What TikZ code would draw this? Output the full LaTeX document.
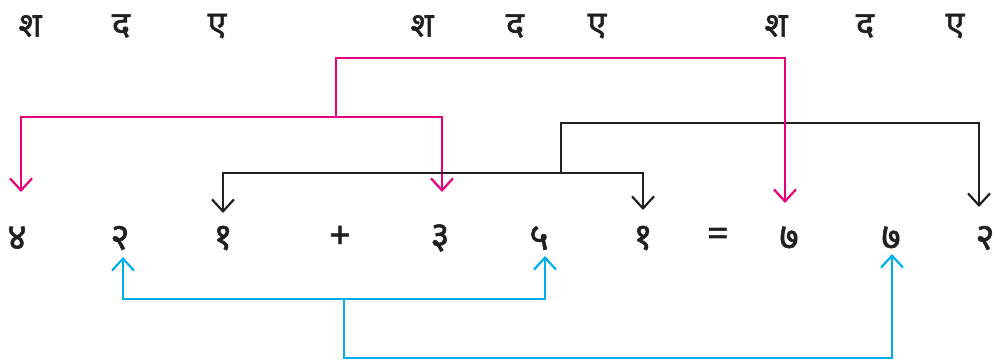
\documentclass[tikz,border=0pt]{standalone}
\usepackage{fontspec}
\newfontfamily\deva[Script=Devanagari, FakeBold=1.6]{Noto Sans}
\usetikzlibrary{arrows.meta,calc}
\definecolor{magc}{HTML}{E6007E}
\definecolor{bluc}{HTML}{00AEEF}
\definecolor{blkc}{HTML}{231F20}
\begin{document}
\begin{tikzpicture}[x=1pt,y=-1pt,
  lbl/.style={font=\deva\fontsize{34}{34}\selectfont, text=blkc, inner sep=0pt},
  num/.style={font=\deva\fontsize{37}{37}\selectfont, text=blkc, inner sep=0pt},
  conn/.style={line width=2.2pt, miter limit=10},
  mag/.style={conn, draw=magc},
  blk/.style={conn, draw=blkc},
  blu/.style={conn, draw=bluc},
  tip/.style={-{Straight Barb[length=12pt,width=22pt]}}]
\useasboundingbox (0,0) rectangle (993,360);
% top place labels
\node[lbl] (s1) at (30,26) {श};
\node[lbl] (t1) at (121,26) {द};
\node[lbl] (e1) at (217,26) {ए};
\node[lbl] (s2) at (422,26) {श};
\node[lbl] (t2) at (515,26) {द};
\node[lbl] (e2) at (597,26) {ए};
\node[lbl] (s3) at (776,26) {श};
\node[lbl] (t3) at (865,26) {द};
\node[lbl] (e3) at (955,26) {ए};
% digits
\node[num] (d4)  at (17,238)  {४};
\node[num] (d2a) at (120,238) {२};
\node[num] (d1a) at (223,238) {१};
\node[num] (plus) at (340,237) {+};
\node[num] (d3)  at (440,238) {३};
\node[num] (d5)  at (539,238) {५};
\node[num] (d1b) at (643,238) {१};
\node[num] (eq)  at (718,237) {=};
\node[num] (d7a) at (789,238) {७};
\node[num] (d7b) at (891,238) {७};
\node[num] (d2b) at (985,238) {२};
% coordinates of the junctions
\coordinate (kA) at (561,123);
\coordinate (kB) at (561,173);
\coordinate (mA) at (336,58);
\coordinate (mB) at (336,117);
\coordinate (bA) at (344,299);
\coordinate (bB) at (344,358);
% black upper connector
\draw[blk,tip] (kB) -- (kA) -| ($(d2b)+(-6,-31)$);
% magenta connectors
\draw[mag,tip] (mB) -- (mA) -| ($(d7a)+(-4,-35)$);
\draw[mag,tip] (mB) -| ($(d4)+(4,-46)$);
\draw[mag,tip] (mB) -| ($(d3)+(2,-46)$);
% black lower connectors
\draw[blk,tip] (kB) -| ($(d1a)+(0,-25)$);
\draw[blk,tip] (kB) -| ($(d1b)+(0,-28)$);
% blue connectors
\draw[blu,tip] (bA) -| ($(d2a)+(3,19)$);
\draw[blu,tip] (bA) -| ($(d5)+(6,18)$);
\draw[blu,tip] (bA) -- (bB) -| ($(d7b)+(1,16)$);
\end{tikzpicture}
\end{document}
